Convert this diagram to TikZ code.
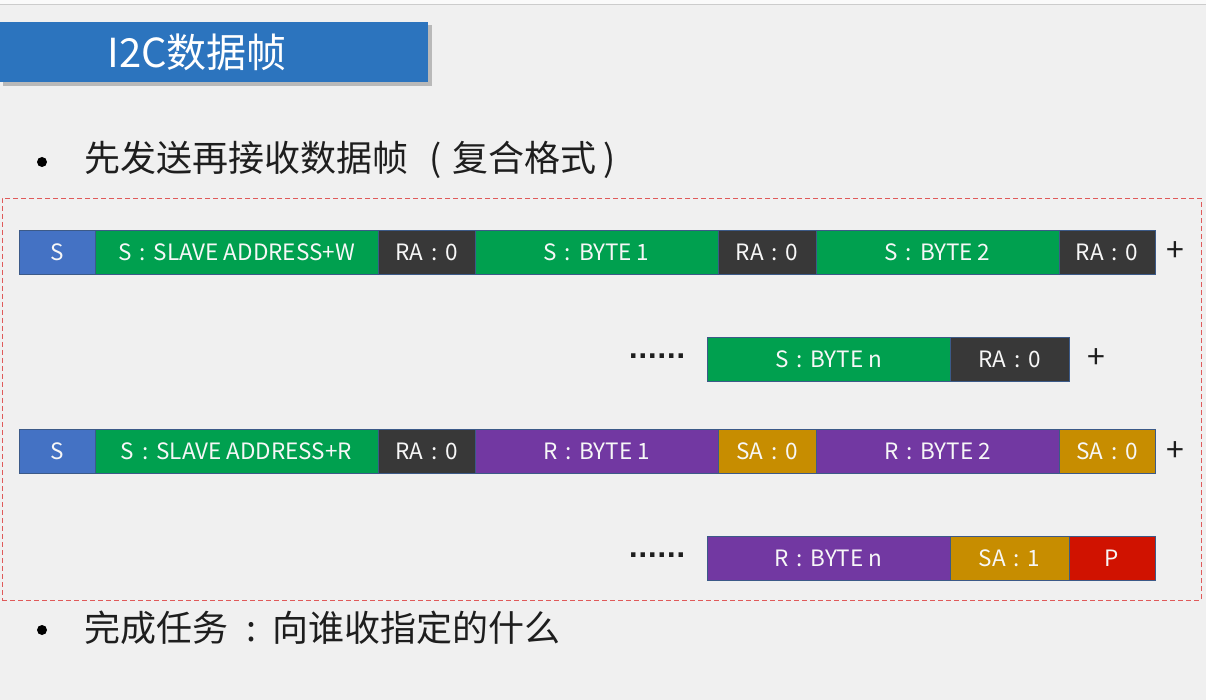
\documentclass[tikz,border=0pt]{standalone}
\usepackage{fontspec}
\setmainfont{Noto Sans CJK SC}
\newfontfamily\dejavu{DejaVu Sans}
\definecolor{bg}{HTML}{F0F0F0}
\definecolor{titleblue}{HTML}{2C74BE}
\definecolor{sblue}{HTML}{4472C4}
\definecolor{sgreen}{HTML}{00A04F}
\definecolor{sdark}{HTML}{383838}
\definecolor{spurple}{HTML}{7238A2}
\definecolor{sgold}{HTML}{C78D00}
\definecolor{sred}{HTML}{D01200}
\definecolor{cellborder}{HTML}{3C5A88}
\definecolor{dashred}{HTML}{E05A5A}
\definecolor{txt}{HTML}{1E1E1E}
\newcommand\cc{\hspace{0.35em}:\hspace{0.35em}}
\tikzset{
  cell/.style={draw=cellborder, line width=0.8pt, text=white!94!gray, minimum height=44pt, inner sep=0pt, font=\fontsize{22.5}{26}\selectfont},
  bullettext/.style={anchor=west, inner sep=0pt, text=txt, font=\fontsize{36}{42}\selectfont},
  sym/.style={inner sep=0pt, text=txt, font=\fontsize{32}{34}\selectfont},
  dots/.style={inner sep=0pt, text=txt, font=\dejavu\bfseries\fontsize{25}{25}\selectfont},
  bul/.style={circle, fill=black, minimum size=10pt, inner sep=0pt},
}
\newcommand\fcell[6]{\node[cell, fill=#2, minimum width={(#4-#3)*1pt}] (#1) at ({(#3+#4)/2},#5) {#6};}
\begin{document}
\begin{tikzpicture}[x=1pt,y=-1pt]
\useasboundingbox (0,0) rectangle (1206,700);
\fill[bg] (0,0) rectangle (1206,700);
\fill[white!96!gray] (0,0) rectangle (1206,4);
\draw[gray!40, line width=0.8pt] (0,4.5) -- (1206,4.5);
% title
\fill[gray!55] (3,25) rectangle (432,86);
\node[fill=titleblue, minimum width=428pt, minimum height=60pt, inner sep=0pt] (title) at (214,52) {};
\node[text=white, inner sep=0pt, font=\fontsize{40}{44}\selectfont] (titletext) at (197,52) {I2C数据帧};
% bullet 1
\node[bul] (b1) at (42,162) {};
\node[bullettext] (t1) at (84,160) {先发送再接收数据帧\hspace{0.6em}(\hspace{0.3em}复合格式\hspace{0.2em})};
% dashed frame
\node[draw=dashred, dash pattern=on 5pt off 3pt, line width=0.9pt, minimum width=1199pt, minimum height=402pt, inner sep=0pt] (frame) at (601.5,399) {};
% row 1
\fcell{r1a}{sblue}{19}{95}{252}{S}
\fcell{r1b}{sgreen}{95}{378}{252}{S\cc SLAVE ADDRESS+W}
\fcell{r1c}{sdark}{378}{475}{252}{RA\cc 0}
\fcell{r1d}{sgreen}{475}{718}{252}{S\cc BYTE 1}
\fcell{r1e}{sdark}{718}{816}{252}{RA\cc 0}
\fcell{r1f}{sgreen}{816}{1059}{252}{S\cc BYTE 2}
\fcell{r1g}{sdark}{1059}{1155}{252}{RA\cc 0}
\node[sym] (p1) at (1175,252) {+};
% row 2
\node[dots] (d2) at (657,356) {......};
\fcell{r2a}{sgreen}{707}{950}{359}{S\cc BYTE n}
\fcell{r2b}{sdark}{950}{1069}{359}{RA\cc 0}
\node[sym] (p2) at (1096,359) {+};
% row 3
\fcell{r3a}{sblue}{19}{95}{451}{S}
\fcell{r3b}{sgreen}{95}{378}{451}{S\cc SLAVE ADDRESS+R}
\fcell{r3c}{sdark}{378}{475}{451}{RA\cc 0}
\fcell{r3d}{spurple}{475}{718}{451}{R\cc BYTE 1}
\fcell{r3e}{sgold}{718}{816}{451}{SA\cc 0}
\fcell{r3f}{spurple}{816}{1059}{451}{R\cc BYTE 2}
\fcell{r3g}{sgold}{1059}{1155}{451}{SA\cc 0}
\node[sym] (p3) at (1175,452) {+};
% row 4
\node[dots] (d4) at (657,555) {......};
\fcell{r4a}{spurple}{707}{950}{558}{R\cc BYTE n}
\fcell{r4b}{sgold}{950}{1069}{558}{SA\cc 1}
\fcell{r4c}{sred}{1069}{1155}{558}{P}
% bullet 2
\node[bul] (b2) at (42,630) {};
\node[bullettext] (t2) at (84,628) {完成任务\hspace{0.5em}:\hspace{0.45em}向谁收指定的什么};
\end{tikzpicture}
\end{document}
